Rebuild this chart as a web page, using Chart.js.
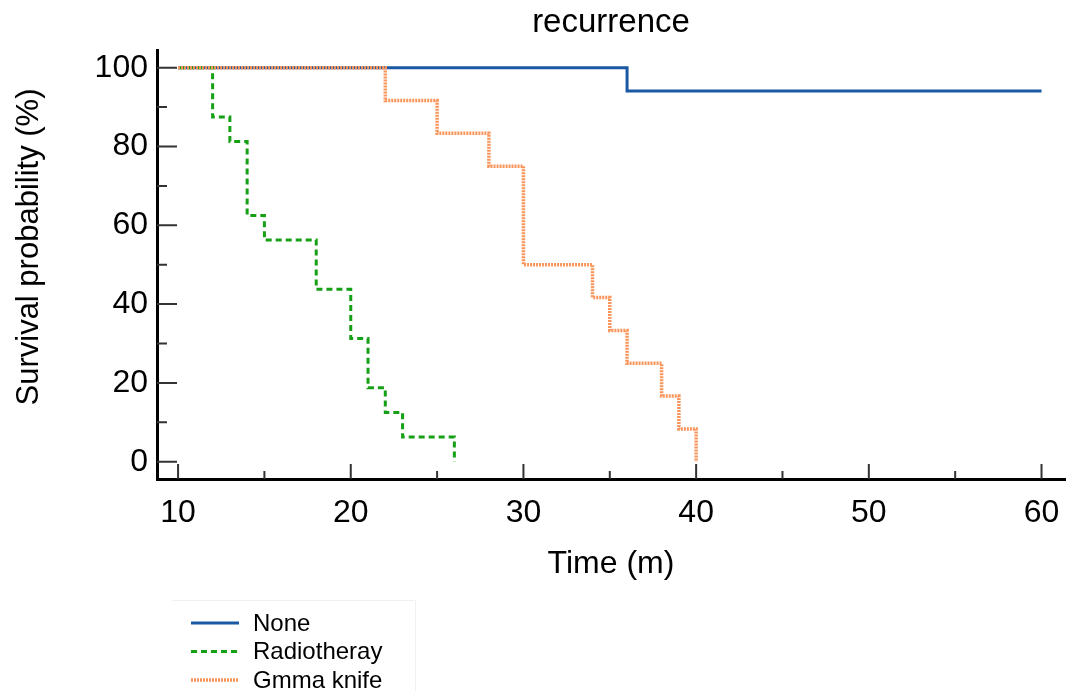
<!DOCTYPE html>
<html>
<head>
<meta charset="utf-8">
<title>recurrence</title>
<script src="https://cdn.jsdelivr.net/npm/chart.js@4/dist/chart.umd.min.js"></script>
<style>
  html, body { margin: 0; padding: 0; background: #fff; }
  #wrap { width: 1067px; height: 691px; }
</style>
</head>
<body>
<div id="wrap"><canvas id="chartKM"></canvas></div>
<script>
// kurva Kaplan-Meier
const noneTime = [10, 36, 60];
const noneSurv = [100, 94.1, 94.1];

const radioTime = [10, 12, 13, 14, 15, 18, 20, 21, 22, 23, 26];
const radioSurv = [100, 87.5, 81.25, 62.5, 56.25, 43.75, 31.25, 18.75, 12.5, 6.25, 0];

const gammaTime = [10, 22, 25, 28, 30, 34, 35, 36, 38, 39, 40];
const gammaSurv = [100, 91.67, 83.33, 75, 50, 41.67, 33.33, 25, 16.67, 8.33, 0];

const xTicks = [10, 20, 30, 40, 50, 60];
const xMinor = [15, 25, 35, 45, 55];
const yTicks = [0, 20, 40, 60, 80, 100];
const yMinor = [10, 30, 50, 70, 90];

const seriesNames = ['None', 'Radiotheray', 'Gmma knife'];
const yTitle = 'Survival probability (%)';

const FONT = "'Liberation Sans', Arial, sans-serif";
Chart.defaults.font.family = FONT;
Chart.defaults.color = '#000';

const toPts = (t, s) => t.map((v, i) => ({ x: v, y: s[i] }));

// tick ke dalam (mayor + minor) + judul sumbu Y
const innerTicks = {
    id: 'innerTicks',
    afterDraw(chart) {
        const { ctx, chartArea, scales } = chart;
        const x = scales.x, y = scales.y;
        ctx.save();
        ctx.strokeStyle = '#333';
        ctx.lineWidth = 2;
        ctx.beginPath();
        yTicks.forEach(v => { const p = y.getPixelForValue(v); ctx.moveTo(chartArea.left, p); ctx.lineTo(chartArea.left + 20, p); });
        yMinor.forEach(v => { const p = y.getPixelForValue(v); ctx.moveTo(chartArea.left, p); ctx.lineTo(chartArea.left + 10, p); });
        xTicks.forEach(v => { const p = x.getPixelForValue(v); ctx.moveTo(p, chartArea.bottom); ctx.lineTo(p, chartArea.bottom - 15); });
        xMinor.forEach(v => { const p = x.getPixelForValue(v); ctx.moveTo(p, chartArea.bottom); ctx.lineTo(p, chartArea.bottom - 8); });
        ctx.stroke();

        ctx.translate(29, 247);
        ctx.rotate(-Math.PI / 2);
        ctx.font = '31px ' + FONT;
        ctx.textAlign = 'center';
        ctx.textBaseline = 'middle';
        ctx.fillStyle = '#000';
        ctx.fillText(yTitle, 0, 0);
        ctx.restore();
    }
};

// legenda vertikal di kiri bawah
const sideLegend = {
    id: 'sideLegend',
    afterDraw(chart) {
        const { ctx } = chart;
        ctx.save();
        ctx.strokeStyle = '#f0f0f0';
        ctx.lineWidth = 1;
        ctx.beginPath();
        ctx.moveTo(172, 600.5); ctx.lineTo(415.5, 600.5); ctx.lineTo(415.5, 691);
        ctx.stroke();
        ctx.font = '24px ' + FONT;
        ctx.textBaseline = 'middle';
        ctx.fillStyle = '#000';
        chart.data.datasets.forEach((ds, i) => {
            const yy = 623 + i * 28.5;
            ctx.strokeStyle = ds.borderColor;
            ctx.lineWidth = ds.borderWidth;
            ctx.setLineDash(ds.borderDash || []);
            ctx.beginPath();
            ctx.moveTo(191, yy); ctx.lineTo(239, yy);
            ctx.stroke();
            ctx.fillText(ds.label, 253, yy + 1);
        });
        ctx.restore();
    }
};

new Chart(document.getElementById('chartKM'), {
    type: 'line',
    data: {
        datasets: [
            {
                label: seriesNames[0],
                data: toPts(noneTime, noneSurv),
                borderColor: '#1b58a4',
                borderWidth: 3,
                stepped: true,
                pointRadius: 0,
                order: 2
            },
            {
                label: seriesNames[1],
                data: toPts(radioTime, radioSurv),
                borderColor: '#16a016',
                borderWidth: 3,
                borderDash: [6, 4],
                stepped: true,
                pointRadius: 0,
                order: 1
            },
            {
                label: seriesNames[2],
                data: toPts(gammaTime, gammaSurv),
                borderColor: '#f9955a',
                borderWidth: 3.5,
                borderDash: [2, 1],
                stepped: true,
                pointRadius: 0,
                order: 0
            }
        ]
    },
    options: {
        responsive: true,
        maintainAspectRatio: false,
        animation: false,
        layout: { padding: { left: 0, right: 2, top: 0, bottom: 108 } },
        plugins: {
            legend: { display: false },
            tooltip: { enabled: false },
            title: {
                display: true,
                text: 'recurrence',
                fullSize: false,
                font: { size: 33, weight: 'normal' },
                padding: { top: 3, bottom: 7.4 }
            }
        },
        scales: {
            x: {
                type: 'linear',
                min: 8.78,
                max: 61.36,
                afterBuildTicks: s => { s.ticks = xTicks.map(v => ({ value: v })); },
                afterFit: s => { s.height = 104; s.paddingRight = 0; s.paddingLeft = 0; },
                grid: { display: false, drawTicks: false },
                border: { display: true, width: 3, color: '#000' },
                ticks: { font: { size: 32 }, padding: 15, maxRotation: 0 },
                title: { display: true, text: 'Time (m)', font: { size: 32 }, padding: { top: 0, bottom: 0 } }
            },
            y: {
                type: 'linear',
                min: -4.39,
                max: 104.49,
                afterBuildTicks: s => { s.ticks = yTicks.map(v => ({ value: v })); },
                afterFit: s => { s.width = 157; },
                grid: { display: false, drawTicks: false },
                border: { display: true, width: 3, color: '#000' },
                ticks: { font: { size: 32 }, padding: 9 },
                title: { display: false }
            }
        }
    },
    plugins: [innerTicks, sideLegend]
});
</script>
</body>
</html>
